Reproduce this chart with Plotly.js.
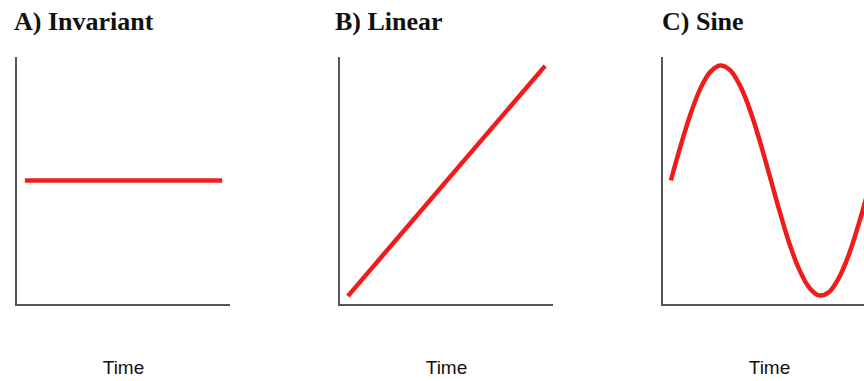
<!DOCTYPE html>
<html>
<head>
<meta charset="utf-8">
<script src="https://cdn.plot.ly/plotly-3.0.1.min.js"></script>
<style>
html,body{margin:0;padding:0;background:#fff;overflow:hidden;width:864px;height:381px;}
#chart{width:880px;height:381px;}
</style>
</head>
<body>
<div id="chart"></div>
<script>
// Panel titles and axis label
const panelTitles = ["A) Invariant", "B) Linear", "C) Sine"];
const xLabel = "Time";

// A) Invariant
const invariantTime = [0, 10];
const invariantValue = [5.0, 5.0];

// B) Linear
const linearTime = [0, 10];
const linearValue = [0.32, 9.64];

// C) Sine (values read off the picture)
const sineTime = [0, 0.5, 1, 1.5, 2, 2.5, 3, 3.5, 4, 4.5, 5, 5.5, 6, 6.5, 7, 7.5, 8, 8.5, 9, 9.5, 10];
const sineValue = [5.0, 6.42, 7.70, 8.73, 9.40, 9.66, 9.47, 8.85, 7.88, 6.62, 5.22, 3.79, 2.47, 1.41, 0.68, 0.35, 0.47, 1.03, 1.95, 3.18, 4.57];

const W = 880, H = 381;
const lineStyle = {color: '#f01c1c', width: 4.5, shape: 'spline'};

const traces = [
  {x: invariantTime, y: invariantValue, xaxis: 'x', yaxis: 'y', mode: 'lines', line: lineStyle, hoverinfo: 'skip'},
  {x: linearTime, y: linearValue, xaxis: 'x2', yaxis: 'y2', mode: 'lines', line: lineStyle, hoverinfo: 'skip'},
  {x: sineTime, y: sineValue, xaxis: 'x3', yaxis: 'y3', mode: 'lines', line: lineStyle, hoverinfo: 'skip'}
];

const yDom = [(H - 304) / H, (H - 57) / H];
const lefts = [17, 340, 663];
const axW = 213;

function xAxis(i) {
  return {
    domain: [lefts[i] / W, (lefts[i] + axW) / W],
    anchor: i === 0 ? 'y' : 'y' + (i + 1),
    range: [-0.4, 10.4],
    showline: true, linecolor: '#555', linewidth: 2,
    showgrid: false, zeroline: false, showticklabels: false, ticks: '',
    fixedrange: true,
    title: {text: xLabel, font: {family: 'Liberation Sans, Arial, sans-serif', size: 19, color: '#111'}, standoff: 56}
  };
}
function yAxis(i) {
  return {
    domain: yDom,
    anchor: i === 0 ? 'x' : 'x' + (i + 1),
    range: [0, 10],
    showline: true, linecolor: '#555', linewidth: 2,
    showgrid: false, zeroline: false, showticklabels: false, ticks: '',
    fixedrange: true
  };
}

const titleX = [12, 333, 660];
const annotations = panelTitles.map((t, i) => ({
  text: '<b>' + t + '</b>',
  xref: 'paper', yref: 'paper',
  x: titleX[i] / W, y: (H - 22) / H,
  xanchor: 'left', yanchor: 'middle',
  showarrow: false,
  font: {family: 'Liberation Serif, Times New Roman, serif', size: 26, color: '#111'}
}));

const layout = {
  width: W, height: H,
  margin: {l: 0, r: 0, t: 0, b: 0},
  paper_bgcolor: '#fff', plot_bgcolor: '#fff',
  showlegend: false,
  xaxis: xAxis(0), xaxis2: xAxis(1), xaxis3: xAxis(2),
  yaxis: yAxis(0), yaxis2: yAxis(1), yaxis3: yAxis(2),
  annotations: annotations
};

Plotly.newPlot('chart', traces, layout, {staticPlot: true, displayModeBar: false});
</script>
</body>
</html>
